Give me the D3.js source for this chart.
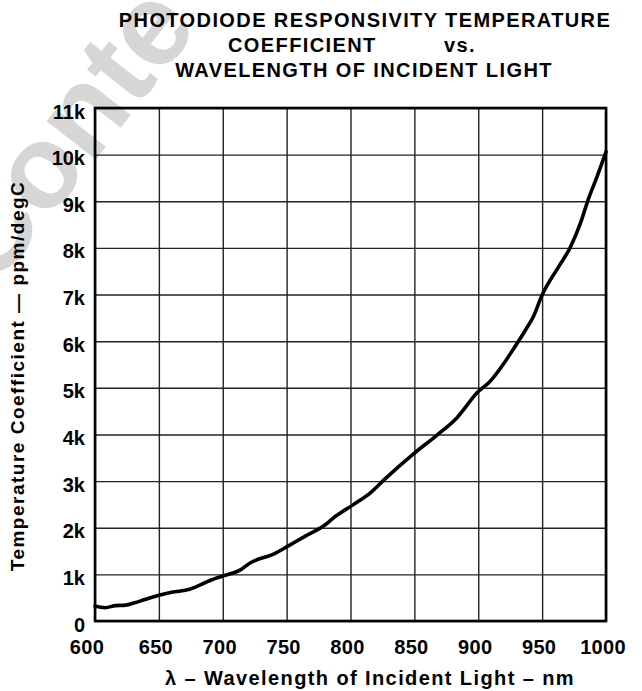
<!DOCTYPE html>
<html><head><meta charset="utf-8">
<script src="https://cdn.jsdelivr.net/npm/d3@7"></script>
<style>html,body{margin:0;padding:0;background:#fff;}svg{display:block;}</style>
</head><body>
<script>
const wavelengths = [600,608,616,624,631,639,650,660,674,691,700,715,720,741,750,764,780,788,802,816,826,850,867,883,900,909,920,927,937,943,950,963,972,980,986,993,1000];
const tempCoeff = [320,285,330,340,390,460,550,615,680,880,965,1115,1220,1450,1590,1810,2060,2240,2490,2760,3020,3600,3970,4350,4920,5130,5520,5810,6240,6520,6990,7600,8010,8530,9030,9530,10060];
const xTicks = [600,650,700,750,800,850,900,950,1000];
const yTicks = [0,1000,2000,3000,4000,5000,6000,7000,8000,9000,10000,11000];
const yTickLabels = ["0","1k","2k","3k","4k","5k","6k","7k","8k","9k","10k","11k"];
const titleLines = ["PHOTODIODE RESPONSIVITY TEMPERATURE","COEFFICIENT","vs.","WAVELENGTH OF INCIDENT LIGHT"];
const xTitle = "λ – Wavelength of Incident Light – nm";
const yTitle = "Temperature Coefficient — ppm/degC";
const watermark = "Conte";

const W = 642, H = 691;
const m = {left:95, right:606, top:108, bottom:621};
const svg = d3.select("body").append("svg").attr("width",W).attr("height",H);
const font = "'Liberation Sans', Arial, Helvetica, sans-serif";

// watermark
svg.append("text").attr("transform","translate(-6,290) rotate(-52)")
  .attr("font-family",font).attr("font-size",118).attr("font-weight","bold").attr("fill","#d6d6d6")
  .text(watermark);

const x = d3.scaleLinear().domain([600,1000]).range([m.left,m.right]);
const y = d3.scaleLinear().domain([0,11000]).range([m.bottom,m.top]);

// grid
const g = svg.append("g");
g.append("g").attr("transform",`translate(0,${m.bottom})`)
  .call(d3.axisBottom(x).tickValues(xTicks).tickSize(-(m.bottom-m.top)).tickFormat(""))
  .call(s=>{s.select(".domain").remove(); s.selectAll("line").attr("stroke","#222").attr("stroke-width",1.4);});
g.append("g").attr("transform",`translate(${m.left},0)`)
  .call(d3.axisLeft(y).tickValues(yTicks).tickSize(-(m.right-m.left)).tickFormat(""))
  .call(s=>{s.select(".domain").remove(); s.selectAll("line").attr("stroke","#222").attr("stroke-width",1.4);});

// border
svg.append("rect").attr("x",m.left).attr("y",m.top).attr("width",m.right-m.left).attr("height",m.bottom-m.top)
  .attr("fill","none").attr("stroke","#000").attr("stroke-width",2.6);

// curve
const line = d3.line().x((d,i)=>x(wavelengths[i])).y(d=>y(d)).curve(d3.curveMonotoneX);
svg.append("path").datum(tempCoeff).attr("d",line).attr("fill","none")
  .attr("stroke","#000").attr("stroke-width",3.6).attr("stroke-linejoin","round").attr("stroke-linecap","round");

// tick labels
const xl = svg.append("g").attr("transform",`translate(0,${m.bottom})`)
  .call(d3.axisBottom(x).tickValues(xTicks).tickSize(0).tickPadding(0).tickFormat(d=>d));
xl.select(".domain").remove();
xl.selectAll(".tick").attr("transform",d=>`translate(${x(d)-(d===600?8:3)},0)`);
xl.selectAll("text").attr("font-family",font).attr("font-size",20).attr("font-weight","bold").attr("fill","#000")
  .attr("letter-spacing",0.3).attr("dy",null).attr("y",33);

const yl = svg.append("g").attr("transform",`translate(${m.left},0)`)
  .call(d3.axisLeft(y).tickValues(yTicks).tickSize(0).tickPadding(10).tickFormat((d,i)=>yTickLabels[i]));
yl.select(".domain").remove();
yl.selectAll("text").attr("font-family",font).attr("font-size",20).attr("font-weight","bold").attr("fill","#000")
  .attr("dy",null).attr("y",10);

// titles
const tt = svg.append("g").attr("font-family",font).attr("font-size",20).attr("font-weight","bold")
  .attr("letter-spacing",1.4).attr("fill","#000");
tt.append("text").attr("x",365).attr("y",27).attr("text-anchor","middle").text(titleLines[0]);
tt.append("text").attr("x",228).attr("y",52).attr("text-anchor","start").text(titleLines[1]);
tt.append("text").attr("x",460).attr("y",52).attr("text-anchor","middle").text(titleLines[2]);
tt.append("text").attr("x",364).attr("y",77).attr("text-anchor","middle").text(titleLines[3]);

svg.append("text").attr("x",370).attr("y",685).attr("text-anchor","middle")
  .attr("font-family",font).attr("font-size",20).attr("font-weight","bold").attr("letter-spacing",1.4).text(xTitle);
svg.append("text").attr("transform","translate(24,376) rotate(-90)").attr("text-anchor","middle")
  .attr("font-family",font).attr("font-size",19).attr("font-weight","bold").attr("letter-spacing",1.5).text(yTitle);
</script>
</body></html>
